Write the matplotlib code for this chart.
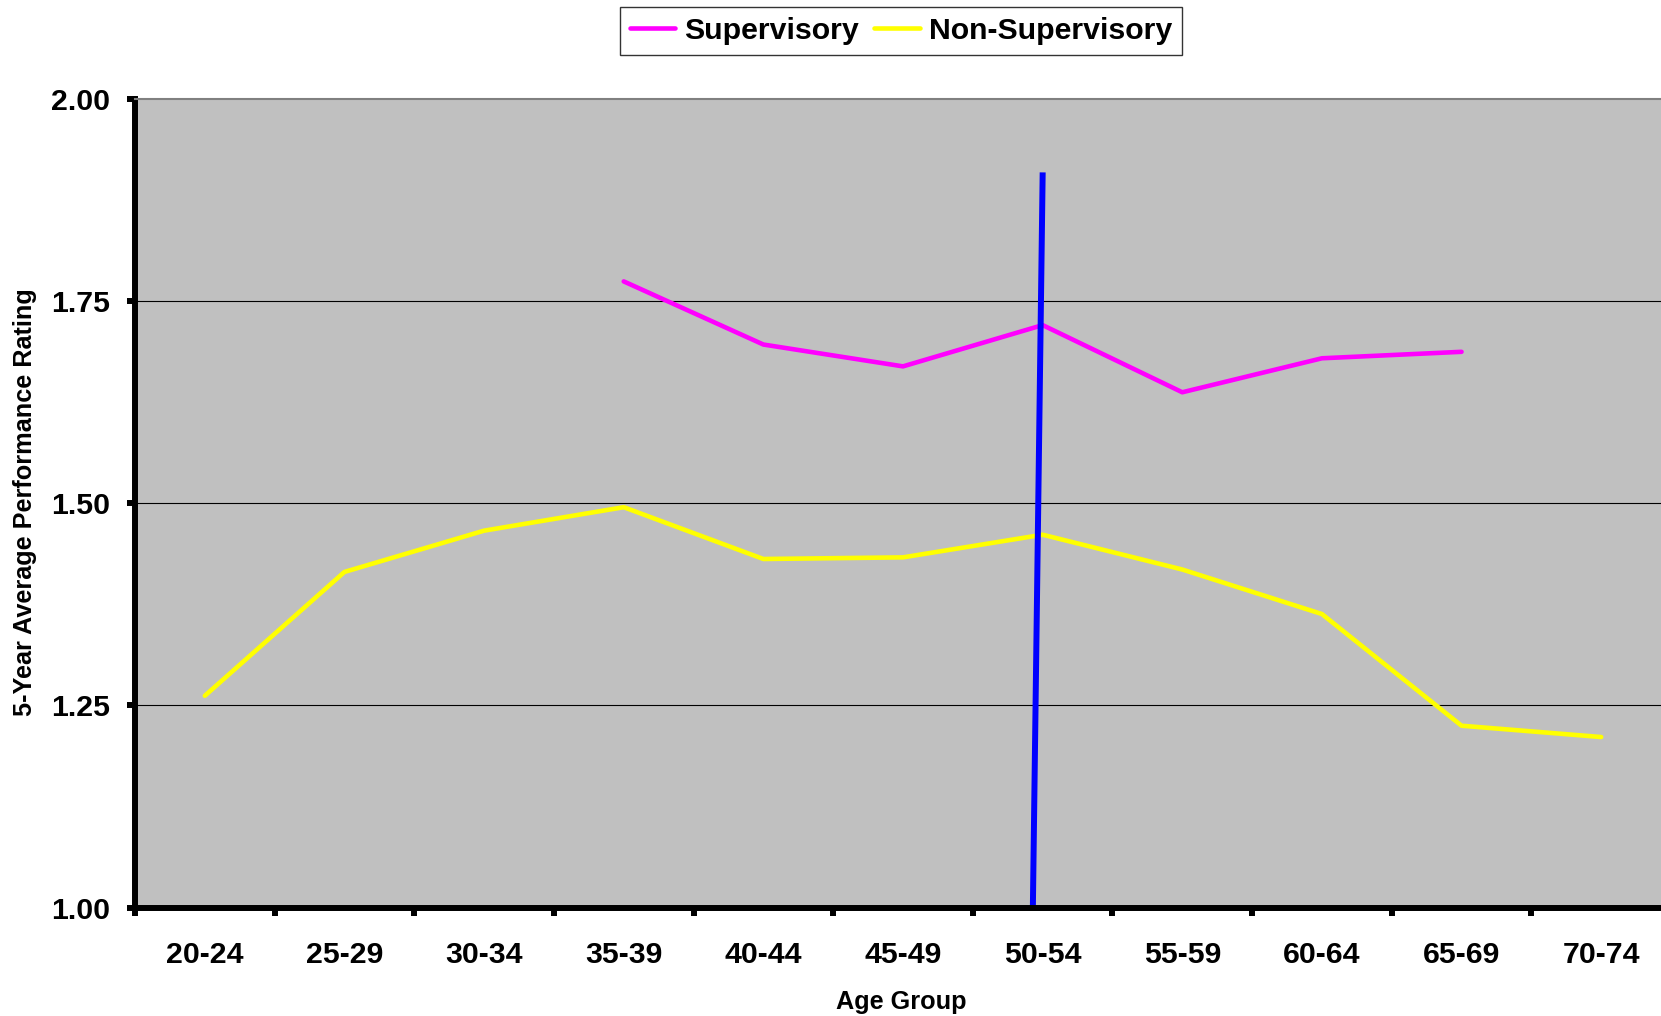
import numpy as np
import matplotlib
matplotlib.use("Agg")
import matplotlib.pyplot as plt

categories = ["20-24", "25-29", "30-34", "35-39", "40-44", "45-49",
              "50-54", "55-59", "60-64", "65-69", "70-74"]
supervisory = [np.nan, np.nan, np.nan, 1.774, 1.696, 1.669, 1.720,
               1.637, 1.679, 1.687, np.nan]
non_supervisory = [1.262, 1.415, 1.466, 1.495, 1.431, 1.433, 1.461,
                   1.418, 1.363, 1.225, 1.211]
marker_x = [5.93, 6.0]
marker_y = [1.0, 1.905]
yticks = [1.00, 1.25, 1.50, 1.75, 2.00]

plt.rcParams['font.family'] = ['Liberation Sans', 'DejaVu Sans']
plt.rcParams['font.weight'] = 'bold'

W, H = 1661, 1016
fig = plt.figure(figsize=(W / 100, H / 100), dpi=100)
ax = fig.add_axes([135 / W, 1 - 907.8 / H, (1671 - 135) / W, (907.8 - 98.5) / H])
ax.set_facecolor('#C0C0C0')

x = np.arange(len(categories))
ax.set_xlim(-0.5, len(categories) - 0.5)
ax.set_ylim(1.0, 2.0)

for v in yticks[1:-1]:
    ax.axhline(v, color='black', lw=0.8, zorder=1)

l1, = ax.plot(x, supervisory, color='#FF00FF', lw=3.3, label='Supervisory',
              solid_capstyle='round', zorder=3)
l2, = ax.plot(x, non_supervisory, color='#FFFF00', lw=3.3, label='Non-Supervisory',
              solid_capstyle='round', zorder=3)
ax.plot(marker_x, marker_y, color='#0000FF', lw=4.3, zorder=4)

# spines
ax.spines['left'].set_linewidth(4.3)
ax.spines['bottom'].set_linewidth(4.3)
ax.spines['left'].set_color('black')
ax.spines['bottom'].set_color('black')
ax.spines['right'].set_visible(False)
ax.spines['top'].set_color('#808080')
ax.spines['top'].set_linewidth(1.5)
for s in ax.spines.values():
    s.set_zorder(5)

# y ticks
ax.set_yticks(yticks)
ax.set_yticklabels([f"{v:.2f}" for v in yticks])
ax.tick_params(axis='y', direction='out', length=6, width=4.3, pad=12,
               labelsize=21.8)

# x ticks: major at boundaries, minor (labels) at centers
ax.set_xticks(np.arange(-0.5, len(categories) - 0.4, 1.0))
ax.set_xticklabels([])
ax.set_xticks(x, minor=True)
ax.set_xticklabels(categories, minor=True)
ax.tick_params(axis='x', which='major', direction='out', length=6, width=4.3)
ax.tick_params(axis='x', which='minor', length=0, pad=24, labelsize=21.8)
for lbl in ax.get_xticklabels(minor=True) + ax.get_yticklabels():
    lbl.set_fontweight('bold')

fig.text(901 / W, 1 - 1002 / H, "Age Group", ha='center', va='center',
         fontsize=18.2, fontweight='bold')
fig.text(25 / W, 1 - 502 / H, "5-Year Average Performance Rating", ha='center',
         va='center', rotation=90, fontsize=18.2, fontweight='bold')

leg = fig.legend(handles=[l1, l2], loc='center', bbox_to_anchor=(901 / W, 1 - 31 / H),
                 ncol=2, frameon=True, fancybox=False, shadow=False,
                 prop={'size': 21.8, 'weight': 'bold'}, handlelength=1.5,
                 handletextpad=0.3, columnspacing=0.5, borderpad=0.32,
                 borderaxespad=0)
leg.get_frame().set_edgecolor('black')
leg.get_frame().set_linewidth(1.0)

fig.savefig("out.png", dpi=100)
